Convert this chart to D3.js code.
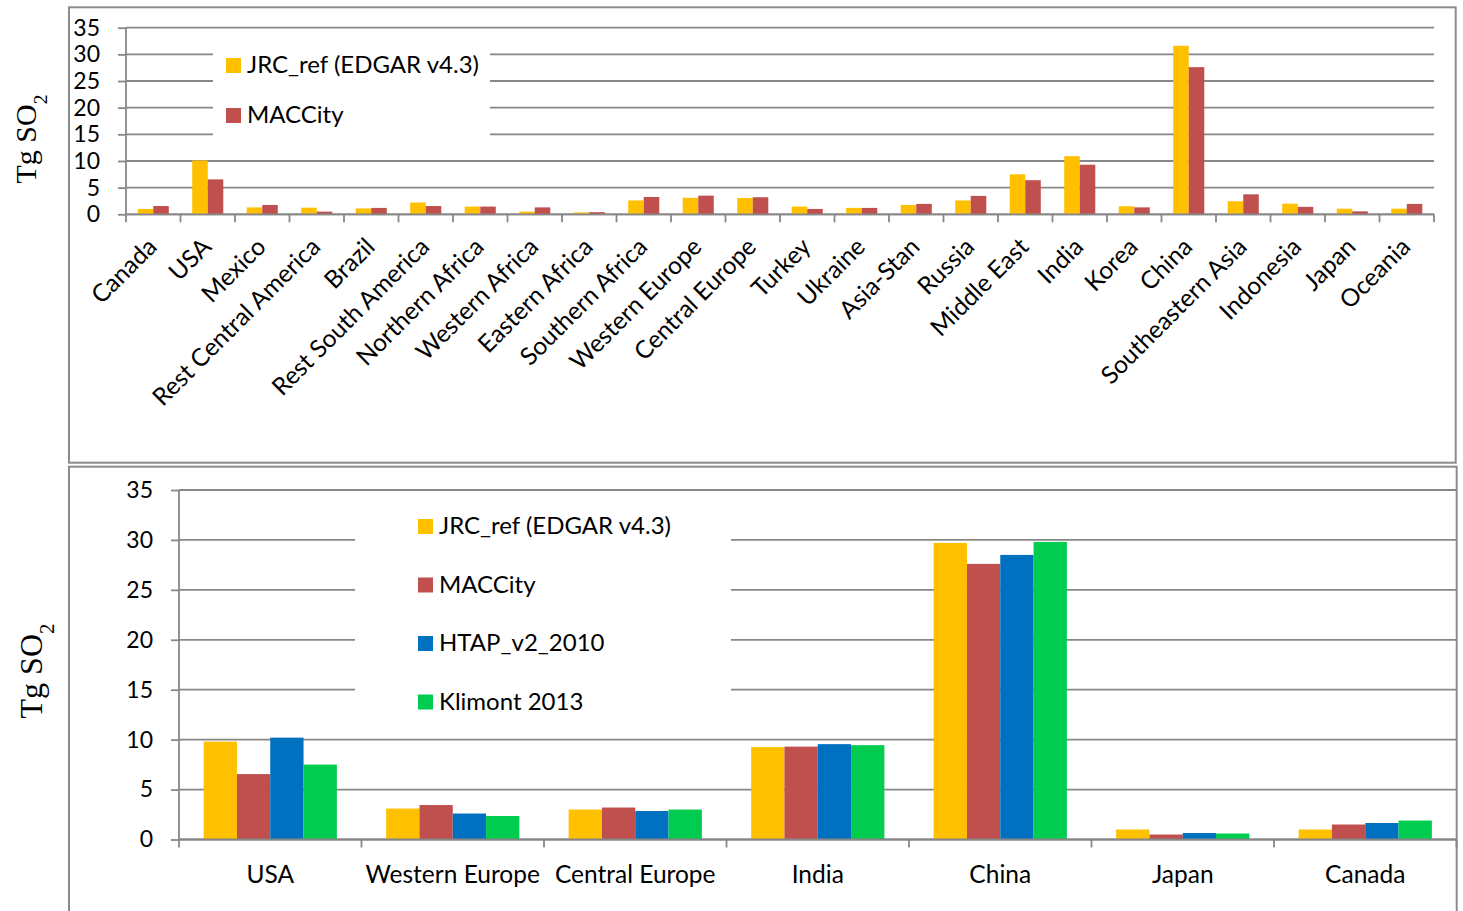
<!DOCTYPE html>
<html>
<head>
<meta charset="utf-8">
<script src="https://cdn.jsdelivr.net/npm/d3@7"></script>
<style>
  html, body { margin: 0; padding: 0; background: #fff; }
  svg { display: block; }
  .lbl { font-family: Lato, "Open Sans", sans-serif; fill: #000; }
  .unit { font-family: "Liberation Serif", "Times New Roman", serif; fill: #000; }
</style>
</head>
<body>
<svg id="chart" width="1463" height="911"></svg>
<script>
// Regional SO2 emissions (Tg SO2), upper panel
const regions = ["Canada", "USA", "Mexico", "Rest Central America", "Brazil", "Rest South America",
  "Northern Africa", "Western Africa", "Eastern Africa", "Southern Africa", "Western Europe",
  "Central Europe", "Turkey", "Ukraine", "Asia-Stan", "Russia", "Middle East", "India", "Korea",
  "China", "Southeastern Asia", "Indonesia", "Japan", "Oceania"];
const jrcRegional     = [1.0, 10.1, 1.3, 1.25, 1.1, 2.2, 1.45, 0.5, 0.35, 2.6, 3.1, 3.05, 1.45, 1.2, 1.75, 2.6, 7.5, 10.9, 1.5, 31.6, 2.45, 2.0, 1.05, 1.05];
const maccityRegional = [1.55, 6.55, 1.75, 0.5, 1.2, 1.55, 1.45, 1.3, 0.4, 3.25, 3.5, 3.2, 1.0, 1.2, 1.95, 3.45, 6.4, 9.3, 1.3, 27.6, 3.75, 1.4, 0.55, 1.95];

// Inventory comparison for selected countries, lower panel
const countries = ["USA", "Western Europe", "Central Europe", "India", "China", "Japan", "Canada"];
const jrc      = [9.8, 3.1, 3.0, 9.25, 29.7, 1.0, 1.0];
const maccity  = [6.55, 3.45, 3.2, 9.3, 27.6, 0.5, 1.5];
const htap     = [10.2, 2.6, 2.85, 9.55, 28.5, 0.65, 1.65];
const klimont  = [7.5, 2.35, 3.0, 9.45, 29.8, 0.6, 1.9];

const yTicks = [0, 5, 10, 15, 20, 25, 30, 35];

const seriesNames = ["JRC_ref (EDGAR v4.3)", "MACCity", "HTAP_v2_2010", "Klimont 2013"];
const seriesColors = ["#FFC000", "#C0504D", "#0070C0", "#00CC50"];

const svg = d3.select("#chart");
const GRID = "#878787";

function panel(opt) {
  const g = svg.append("g");

  // frame
  g.append("rect")
    .attr("x", opt.frame[0]).attr("y", opt.frame[1])
    .attr("width", opt.frame[2]).attr("height", opt.frame[3])
    .attr("fill", "#fff").attr("stroke", "#8c8c8c").attr("stroke-width", 2);

  const y = d3.scaleLinear().domain([0, 35]).range([opt.y0, opt.y35]);
  const x = d3.scaleBand().domain(opt.cats).range([opt.x0, opt.x1])
    .paddingInner(opt.pad).paddingOuter(opt.pad / 2);
  const xs = d3.scaleBand().domain(d3.range(opt.series.length)).range([0, x.bandwidth()]);

  // gridlines
  g.append("g").selectAll("line").data(yTicks).join("line")
    .attr("x1", opt.x0).attr("x2", opt.gridEnd)
    .attr("y1", d => y(d)).attr("y2", d => y(d))
    .attr("stroke", GRID).attr("stroke-width", 1.8);

  // legend background (covers gridlines)
  g.append("rect")
    .attr("x", opt.legendBox[0]).attr("y", opt.legendBox[1])
    .attr("width", opt.legendBox[2]).attr("height", opt.legendBox[3])
    .attr("fill", "#fff");

  // y axis
  const yAxis = d3.axisLeft(y).tickValues(yTicks).tickSize(8).tickPadding(opt.yPad).tickFormat(d3.format("d"));
  const ya = g.append("g").attr("transform", `translate(${opt.x0},0)`).call(yAxis);
  ya.select(".domain").attr("stroke", GRID).attr("stroke-width", 1.8).attr("d", `M0,${opt.y0}V${opt.y35}`);
  ya.selectAll(".tick line").attr("stroke", GRID).attr("stroke-width", 1.8);
  ya.selectAll(".tick text").attr("class", "lbl").style("font-size", opt.tickFs + "px").attr("fill", "#000");

  // bars
  opt.series.forEach((vals, si) => {
    g.append("g").selectAll("rect").data(vals).join("rect")
      .attr("x", (d, i) => x(opt.cats[i]) + xs(si))
      .attr("width", xs.bandwidth())
      .attr("y", d => y(d))
      .attr("height", d => y(0) - y(d))
      .attr("fill", seriesColors[si]);
  });

  // x axis with boundary ticks
  const step = x.step();
  const bounds = d3.range(opt.cats.length + 1).map(i => opt.x0 + i * step);
  g.append("line").attr("x1", opt.x0).attr("x2", opt.x1)
    .attr("y1", opt.y0).attr("y2", opt.y0).attr("stroke", GRID).attr("stroke-width", 1.8);
  g.append("g").selectAll("line").data(bounds).join("line")
    .attr("x1", d => d).attr("x2", d => d)
    .attr("y1", opt.y0).attr("y2", opt.y0 + 8)
    .attr("stroke", GRID).attr("stroke-width", 1.8);

  // category labels
  const labels = g.append("g").selectAll("text").data(opt.cats).join("text")
    .attr("class", "lbl").style("font-size", opt.fs + "px").text(d => d);
  if (opt.rotate) {
    labels.attr("text-anchor", "end")
      .attr("transform", d => `translate(${x(d) + x.bandwidth() / 2 + 5},${opt.y0 + 34}) rotate(-45)`);
  } else {
    labels.attr("text-anchor", "middle")
      .attr("x", d => x(d) + x.bandwidth() / 2)
      .attr("y", opt.labelY);
  }

  // legend
  const lg = g.append("g").selectAll("g").data(opt.series.map((s, i) => i)).join("g")
    .attr("transform", i => `translate(${opt.legendX},${opt.legendY + i * opt.legendGap})`);
  lg.append("rect").attr("x", 0).attr("y", -15).attr("width", 15).attr("height", 15)
    .attr("fill", i => seriesColors[i]);
  lg.append("text").attr("class", "lbl").attr("x", 21).attr("y", 0)
    .style("font-size", opt.legendFs + "px").text(i => seriesNames[i]);

  // unit title
  const t = g.append("text").attr("class", "unit")
    .attr("text-anchor", "middle")
    .attr("transform", `translate(${opt.titleX},${opt.titleY}) rotate(-90)`)
    .style("font-size", opt.titleFs + "px");
  t.append("tspan").text("Tg SO");
  t.append("tspan").attr("baseline-shift", "sub").style("font-size", (opt.titleFs * 0.65) + "px").text("2");
}

panel({
  frame: [69, 7.3, 1386.7, 455.4],
  cats: regions,
  series: [jrcRegional, maccityRegional],
  x0: 126, x1: 1434, gridEnd: 1434,
  y0: 214.3, y35: 27.7,
  pad: 0.43,
  yPad: 18,
  fs: 24.5, tickFs: 23, legendFs: 24,
  rotate: true,
  legendBox: [213, 38, 277, 112],
  legendX: 226, legendY: 73, legendGap: 50,
  titleX: 36, titleY: 139, titleFs: 30
});

panel({
  frame: [69, 466.7, 1387.7, 460],
  cats: countries,
  series: [jrc, maccity, htap, klimont],
  x0: 179, x1: 1456.5, gridEnd: 1456.5,
  y0: 839.5, y35: 490,
  pad: 0.27,
  yPad: 18,
  fs: 24.5, tickFs: 23, legendFs: 24,
  rotate: false,
  labelY: 883,
  legendBox: [355, 503, 376, 222],
  legendX: 418, legendY: 534, legendGap: 58.5,
  titleX: 42, titleY: 671, titleFs: 32
});
</script>
</body>
</html>
